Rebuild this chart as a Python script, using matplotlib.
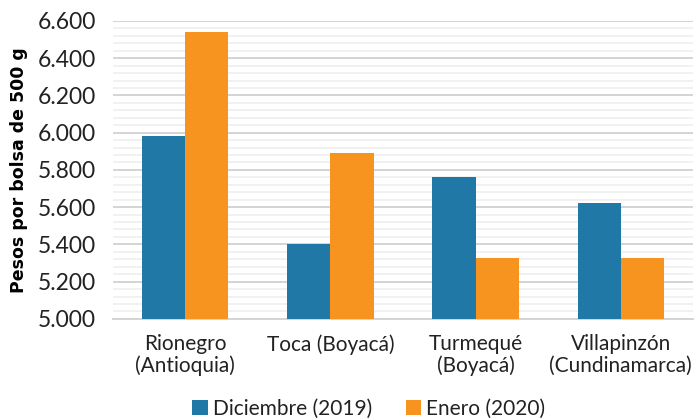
import numpy as np
from matplotlib import pyplot as plt
from matplotlib.ticker import MultipleLocator, FuncFormatter

plt.rcParams['font.family'] = ['Lato', 'DejaVu Sans']

categories = ['Rionegro\n(Antioquia)', 'Toca (Boyacá)', 'Turmequé\n(Boyacá)', 'Villapinzón\n(Cundinamarca)']
diciembre = [5983, 5401, 5762, 5621]
enero = [6543, 5893, 5326, 5326]

fig = plt.figure(dpi=100, figsize=(6.96, 4.19))
ax = fig.add_axes([0.162, 0.239, 0.834, 0.711])

x = np.arange(len(categories))
w = 0.297
ax.bar(x - w / 2, diciembre, w, color='#1F78A6', label='Diciembre (2019)', zorder=3)
ax.bar(x + w / 2, enero, w, color='#F7931F', label='Enero (2020)', zorder=3)

ax.set_ylim(5000, 6600)
ax.set_xlim(-0.5, 3.5)
ax.yaxis.set_major_locator(MultipleLocator(200))
ax.yaxis.set_minor_locator(MultipleLocator(40))
ax.yaxis.set_major_formatter(FuncFormatter(lambda v, p: f'{v/1000:.3f}'))
ax.grid(axis='y', which='major', color='#d4d4d4', linewidth=1.4, zorder=0)
ax.grid(axis='y', which='minor', color='#ededed', linewidth=1.1, zorder=0)

for s in ['top', 'right', 'left']:
    ax.spines[s].set_visible(False)
ax.spines['bottom'].set_color('#d4d4d4')
ax.spines['bottom'].set_linewidth(1.4)

ax.set_xticks(x)
ax.set_xticklabels(categories, fontsize=15, color='#222222', linespacing=1.1)
ax.tick_params(axis='both', which='both', length=0)
ax.tick_params(axis='y', labelsize=16.5, colors='#222222', pad=12)
ax.tick_params(axis='x', pad=11)

ax.set_ylabel('Pesos por bolsa de 500 g', fontsize=12.5, fontweight='heavy',
              family=['DejaVu Sans'], labelpad=7)

fig.legend(loc='center', bbox_to_anchor=(0.53, 0.025), ncol=2, frameon=False,
           fontsize=15, handlelength=0.75, handleheight=0.75, handletextpad=0.25,
           columnspacing=1.6, labelcolor='#222222')

plt.savefig('out.png')
